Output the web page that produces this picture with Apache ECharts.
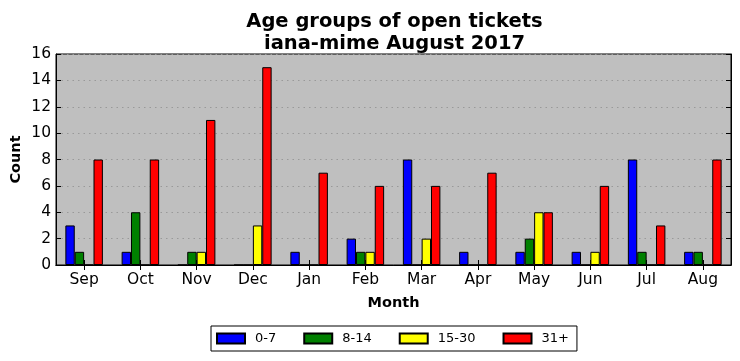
<!DOCTYPE html>
<html>
<head>
<meta charset="utf-8">
<script src="https://cdn.jsdelivr.net/npm/echarts@6/dist/echarts.min.js"></script>
<style>
html,body{margin:0;padding:0;background:#fff;}
#chart{width:740px;height:361px;}
</style>
</head>
<body>
<div id="chart"></div>
<script>
const months = ['Sep','Oct','Nov','Dec','Jan','Feb','Mar','Apr','May','Jun','Jul','Aug'];
const age0_7   = [3,1,0,0,1,2,8,1,1,1,8,1];
const age8_14  = [1,4,1,0,0,1,0,0,2,0,1,1];
const age15_30 = [0,0,1,3,0,1,2,0,4,1,0,0];
const age31p   = [8,8,11,15,7,6,6,7,4,6,3,8];
const seriesNames = ['0-7','8-14','15-30','31+'];
const seriesColors = ['#0000ff','#008000','#ffff00','#ff0000'];
const yTicks = [0,2,4,6,8,10,12,14,16];

const FONT = 'DejaVu Sans';
const chart = echarts.init(document.getElementById('chart'), null, {renderer:'canvas'});
const dataSets = [age0_7, age8_14, age15_30, age31p];

const option = {
  animation: false,
  backgroundColor: '#ffffff',
  textStyle: {fontFamily: FONT},
  title: {
    text: 'Age groups of open tickets\niana-mime August 2017',
    left: 389.5,
    textAlign: 'center',
    top: 6,
    textStyle: {fontFamily: FONT, fontSize: 19.5, fontWeight: 'bold', color: '#000', lineHeight: 22}
  },
  legend: {
    data: seriesNames,
    left: 211,
    top: 326,
    orient: 'horizontal',
    itemWidth: 28,
    itemHeight: 10,
    itemGap: 27,
    padding: [6, 8, 6, 5],
    borderColor: '#000',
    borderWidth: 1,
    icon: 'rect',
    textStyle: {fontFamily: FONT, fontSize: 13, color: '#000', padding: [0,0,0,5]}
  },
  grid: {
    left: 56, right: 9, top: 54, bottom: 96,
    outerBoundsMode: 'none',
    containLabel: false,
    show: true,
    backgroundColor: '#bfbfbf',
    borderColor: '#000',
    borderWidth: 1
  },
  xAxis: [{
    type: 'category',
    data: months,
    position: 'bottom',
    name: 'Month',
    nameLocation: 'middle',
    nameGap: 31,
    nameMoveOverlap: false,
    nameTextStyle: {fontFamily: FONT, fontSize: 14.5, fontWeight: 'bold', color: '#000'},
    axisLine: {show: true, lineStyle: {color: '#000', width: 1}},
    axisTick: {show: true, inside: true, alignWithLabel: true, length: 5, lineStyle: {color: '#000'}},
    axisLabel: {fontFamily: FONT, fontSize: 15.5, color: '#000', margin: 7},
    splitLine: {show: false}
  }, {
    type: 'category',
    data: months,
    position: 'top',
    axisLine: {show: true, lineStyle: {color: '#000', width: 1}},
    axisTick: {show: true, inside: true, alignWithLabel: true, length: 5, lineStyle: {color: '#000'}},
    axisLabel: {show: false},
    splitLine: {show: false}
  }],
  yAxis: [{
    type: 'value',
    min: yTicks[0],
    max: yTicks[yTicks.length-1],
    interval: 2,
    position: 'left',
    name: 'Count',
    nameLocation: 'middle',
    nameGap: 32,
    nameMoveOverlap: false,
    nameRotate: 90,
    nameTextStyle: {fontFamily: FONT, fontSize: 14.5, fontWeight: 'bold', color: '#000'},
    axisLine: {show: true, lineStyle: {color: '#000', width: 1}},
    axisTick: {show: true, inside: true, length: 5, lineStyle: {color: '#000'}},
    axisLabel: {fontFamily: FONT, fontSize: 15.5, color: '#000', margin: 5},
    splitLine: {show: true, lineStyle: {color: '#999999', type: [1.5,4], width: 1}}
  }, {
    type: 'value',
    min: yTicks[0],
    max: yTicks[yTicks.length-1],
    interval: 2,
    position: 'right',
    axisLine: {show: true, lineStyle: {color: '#000', width: 1}},
    axisTick: {show: true, inside: true, length: 5, lineStyle: {color: '#000'}},
    axisLabel: {show: false},
    splitLine: {show: false}
  }],
  series: seriesNames.map((name, i) => ({
    name: name,
    type: 'bar',
    xAxisIndex: 0,
    yAxisIndex: 0,
    data: dataSets[i],
    barGap: '0%',
    barCategoryGap: '33.333%',
    itemStyle: {color: seriesColors[i], borderColor: '#000', borderWidth: 1}
  }))
};
chart.setOption(option);
</script>
</body>
</html>
